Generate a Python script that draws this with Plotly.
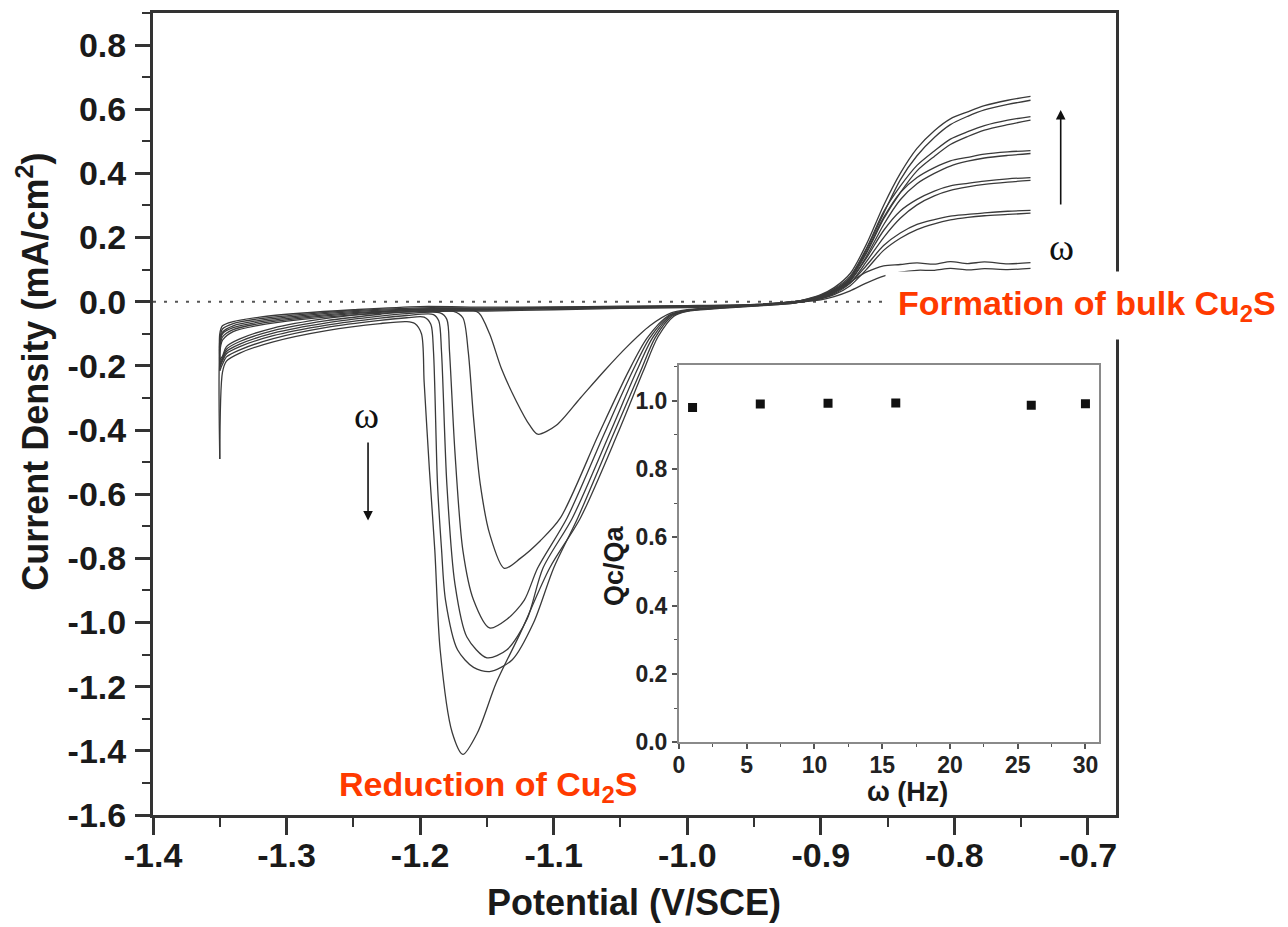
import plotly.graph_objects as go

# ---------------- tick labels ----------------
X_TICKS = [-1.4, -1.3, -1.2, -1.1, -1.0, -0.9, -0.8, -0.7]
X_TICK_LABELS = ["-1.4", "-1.3", "-1.2", "-1.1", "-1.0", "-0.9", "-0.8", "-0.7"]
Y_TICKS = [-1.6, -1.4, -1.2, -1.0, -0.8, -0.6, -0.4, -0.2, 0.0, 0.2, 0.4, 0.6, 0.8]
Y_TICK_LABELS = ["-1.6", "-1.4", "-1.2", "-1.0", "-0.8", "-0.6", "-0.4", "-0.2",
                 "0.0", "0.2", "0.4", "0.6", "0.8"]
IN_X_TICKS = [0, 5, 10, 15, 20, 25, 30]
IN_X_TICK_LABELS = ["0", "5", "10", "15", "20", "25", "30"]
IN_Y_TICKS = [0.0, 0.2, 0.4, 0.6, 0.8, 1.0]
IN_Y_TICK_LABELS = ["0.0", "0.2", "0.4", "0.6", "0.8", "1.0"]

# ---------------- inset data ----------------
OMEGA_HZ = [1, 6, 11, 16, 26, 30]
QC_QA = [0.980, 0.990, 0.992, 0.993, 0.986, 0.991]

# ---------------- shared potential grids (V/SCE) ----------------
SIG_X = [-0.743, -0.76, -0.7775, -0.79, -0.803, -0.815, -0.828, -0.8405, -0.853,
         -0.866, -0.878, -0.89, -0.90, -0.91, -0.92]
FLAT_X = [-0.95, -1.0, -1.05, -1.1, -1.15, -1.2, -1.25, -1.29, -1.32, -1.34, -1.348, -1.35]
LEFT_X = [-1.35, -1.348, -1.345, -1.335, -1.31, -1.27, -1.23, -1.21]
TAIL_X = [-0.98, -0.95, -0.92]
SIG_UP_X = [-0.91, -0.90, -0.89, -0.878, -0.866, -0.853, -0.8405, -0.828, -0.815,
            -0.803, -0.79, -0.7775, -0.76, -0.743]

# ---------------- curve A (lowest rotation rate) ----------------
A_SIG_C = [0.122, 0.118, 0.124, 0.119, 0.125, 0.117, 0.121, 0.116, 0.112, 0.092, 0.062, 0.036, 0.018, 0.006, 0.000]
A_FLAT_C = [-0.008, -0.012, -0.014, -0.016, -0.017, -0.015, -0.025, -0.036, -0.048, -0.062, -0.075, -0.100]
A_LEFT_A = [-0.180, -0.170, -0.140, -0.116, -0.082, -0.052, -0.033, -0.025]
A_PEAK_X = [-1.165, -1.156, -1.148, -1.139, -1.128, -1.118, -1.112, -1.098, -1.080, -1.062,
            -1.045, -1.028, -1.012, -1.000]
A_PEAK_Y = [-0.022, -0.035, -0.100, -0.210, -0.310, -0.385, -0.413, -0.385, -0.300, -0.215,
            -0.140, -0.075, -0.035, -0.025]
A_TAIL = [-0.018, -0.010, -0.003]
A_SIG_A = [0.001, 0.006, 0.016, 0.034, 0.058, 0.080, 0.092, 0.098, 0.098, 0.104, 0.099, 0.103, 0.100, 0.104]

# ---------------- curve B ----------------
B_SIG_C = [0.285, 0.282, 0.277, 0.272, 0.267, 0.256, 0.241, 0.214, 0.175, 0.112, 0.058, 0.030, 0.015, 0.005, 0.000]
B_FLAT_C = [-0.009, -0.013, -0.016, -0.018, -0.020, -0.019, -0.028, -0.040, -0.053, -0.068, -0.085, -0.120]
B_LEFT_A = [-0.190, -0.175, -0.148, -0.124, -0.090, -0.059, -0.039, -0.031]
B_PEAK_X = [-1.175, -1.168, -1.164, -1.160, -1.155, -1.148, -1.137, -1.125, -1.110, -1.095,
            -1.066, -1.044, -1.030, -1.014, -1.000]
B_PEAK_Y = [-0.030, -0.050, -0.155, -0.362, -0.568, -0.723, -0.831, -0.800, -0.745, -0.674,
            -0.410, -0.217, -0.113, -0.043, -0.027]
B_TAIL = [-0.019, -0.011, -0.003]
B_SIG_A = [0.002, 0.009, 0.022, 0.050, 0.100, 0.160, 0.198, 0.225, 0.243, 0.255, 0.263, 0.268, 0.272, 0.276]

# ---------------- curve C ----------------
C_SIG_C = [0.387, 0.383, 0.376, 0.369, 0.361, 0.345, 0.319, 0.283, 0.222, 0.135, 0.068, 0.034, 0.017, 0.006, 0.000]
C_FLAT_C = [-0.010, -0.014, -0.017, -0.020, -0.022, -0.022, -0.031, -0.044, -0.058, -0.075, -0.095, -0.130]
C_LEFT_A = [-0.200, -0.180, -0.155, -0.132, -0.098, -0.066, -0.045, -0.037]
C_PEAK_X = [-1.185, -1.180, -1.178, -1.174, -1.168, -1.160, -1.148, -1.135, -1.122, -1.112,
            -1.090, -1.062, -1.041, -1.028, -1.013, -1.000]
C_PEAK_Y = [-0.035, -0.055, -0.155, -0.465, -0.775, -0.930, -1.017, -0.990, -0.930, -0.830,
            -0.674, -0.410, -0.217, -0.113, -0.043, -0.027]
C_TAIL = [-0.020, -0.012, -0.003]
C_SIG_A = [0.003, 0.010, 0.025, 0.058, 0.124, 0.200, 0.260, 0.302, 0.330, 0.347, 0.358, 0.366, 0.373, 0.378]

# ---------------- curve D ----------------
D_SIG_C = [0.471, 0.467, 0.460, 0.450, 0.439, 0.418, 0.387, 0.340, 0.262, 0.155, 0.074, 0.037, 0.019, 0.007, 0.000]
D_FLAT_C = [-0.010, -0.015, -0.018, -0.021, -0.024, -0.025, -0.034, -0.048, -0.063, -0.081, -0.100, -0.140]
D_LEFT_A = [-0.205, -0.185, -0.162, -0.140, -0.106, -0.073, -0.051, -0.043]
D_PEAK_X = [-1.190, -1.186, -1.184, -1.180, -1.174, -1.165, -1.150, -1.135, -1.120, -1.108,
            -1.086, -1.058, -1.038, -1.026, -1.012, -1.000]
D_PEAK_Y = [-0.040, -0.060, -0.155, -0.568, -0.878, -1.045, -1.110, -1.085, -0.990, -0.830,
            -0.674, -0.410, -0.217, -0.113, -0.043, -0.028]
D_TAIL = [-0.020, -0.012, -0.003]
D_SIG_A = [0.003, 0.011, 0.028, 0.064, 0.140, 0.240, 0.318, 0.368, 0.400, 0.423, 0.438, 0.448, 0.456, 0.462]

# ---------------- curve E ----------------
E_SIG_C = [0.577, 0.566, 0.549, 0.530, 0.507, 0.470, 0.425, 0.360, 0.280, 0.165, 0.080, 0.040, 0.020, 0.008, 0.000]
E_FLAT_C = [-0.011, -0.016, -0.019, -0.022, -0.026, -0.028, -0.037, -0.052, -0.068, -0.087, -0.110, -0.150]
E_LEFT_A = [-0.215, -0.195, -0.172, -0.150, -0.115, -0.080, -0.058, -0.050]
E_PEAK_X = [-1.197, -1.192, -1.190, -1.187, -1.184, -1.181, -1.172, -1.160, -1.148, -1.131,
            -1.115, -1.100, -1.082, -1.055, -1.035, -1.024, -1.011, -1.000]
E_PEAK_Y = [-0.048, -0.070, -0.155, -0.568, -0.770, -0.930, -1.085, -1.140, -1.153, -1.116,
            -1.000, -0.830, -0.674, -0.410, -0.217, -0.112, -0.044, -0.029]
E_TAIL = [-0.021, -0.013, -0.004]
E_SIG_A = [0.004, 0.013, 0.030, 0.070, 0.150, 0.258, 0.340, 0.408, 0.453, 0.490, 0.515, 0.535, 0.552, 0.566]

# ---------------- curve F (highest rotation rate) ----------------
F_SIG_C = [0.640, 0.628, 0.611, 0.592, 0.570, 0.533, 0.478, 0.400, 0.300, 0.178, 0.088, 0.044, 0.022, 0.009, 0.000]
F_FLAT_C = [-0.012, -0.018, -0.021, -0.025, -0.029, -0.031, -0.041, -0.056, -0.073, -0.093, -0.120, -0.160]
F_LEFT_A = [-0.490, -0.220, -0.185, -0.160, -0.125, -0.090, -0.068, -0.062]
F_PEAK_X = [-1.204, -1.199, -1.197, -1.193, -1.189, -1.185, -1.176, -1.168, -1.157, -1.143,
            -1.125, -1.103, -1.080, -1.052, -1.033, -1.022, -1.010, -1.000]
F_PEAK_Y = [-0.068, -0.100, -0.250, -0.527, -0.775, -1.085, -1.343, -1.411, -1.343, -1.188,
            -1.033, -0.830, -0.674, -0.410, -0.217, -0.110, -0.045, -0.030]
F_TAIL = [-0.022, -0.014, -0.004]
F_SIG_A = [0.004, 0.014, 0.033, 0.075, 0.162, 0.275, 0.380, 0.455, 0.512, 0.552, 0.578, 0.598, 0.615, 0.628]

CURVES = [
    (A_SIG_C, A_FLAT_C, A_LEFT_A, A_PEAK_X, A_PEAK_Y, A_TAIL, A_SIG_A),
    (B_SIG_C, B_FLAT_C, B_LEFT_A, B_PEAK_X, B_PEAK_Y, B_TAIL, B_SIG_A),
    (C_SIG_C, C_FLAT_C, C_LEFT_A, C_PEAK_X, C_PEAK_Y, C_TAIL, C_SIG_A),
    (D_SIG_C, D_FLAT_C, D_LEFT_A, D_PEAK_X, D_PEAK_Y, D_TAIL, D_SIG_A),
    (E_SIG_C, E_FLAT_C, E_LEFT_A, E_PEAK_X, E_PEAK_Y, E_TAIL, E_SIG_A),
    (F_SIG_C, F_FLAT_C, F_LEFT_A, F_PEAK_X, F_PEAK_Y, F_TAIL, F_SIG_A),
]

FONT = "Liberation Sans, Arial, sans-serif"
SERIF = "Liberation Serif, Times New Roman, serif"
RED = "#ff3a00"
AX = "#333333"

fig = go.Figure()

for sig_c, flat_c, left_a, peak_x, peak_y, tail, sig_a in CURVES:
    xs = SIG_X + FLAT_X + [LEFT_X[0]] + [None] + LEFT_X + peak_x + TAIL_X + SIG_UP_X
    ys = sig_c + flat_c + [left_a[0]] + [None] + left_a + peak_y + tail + sig_a
    fig.add_trace(go.Scatter(
        x=xs, y=ys, mode="lines", connectgaps=False, hoverinfo="skip",
        line=dict(color="#3a3a3a", width=1.3, shape="spline", smoothing=0.8),
        xaxis="x", yaxis="y", showlegend=False))

fig.add_trace(go.Scatter(
    x=OMEGA_HZ, y=QC_QA, mode="markers",
    marker=dict(symbol="square", size=9, color="#111111"),
    xaxis="x2", yaxis="y2", showlegend=False))

def px_x(p):
    return (p - 153) / 963.0

def px_y(p):
    return (815 - p) / 805.0

fig.update_layout(
    width=1288, height=927,
    margin=dict(l=153, r=172, t=10, b=112),
    paper_bgcolor="white", plot_bgcolor="white",
    showlegend=False,
    xaxis=dict(
        domain=[0, 1], anchor="y", range=[-1.4, -0.679],
        tickmode="array", tickvals=X_TICKS, ticktext=X_TICK_LABELS,
        ticks="outside", ticklen=17, tickwidth=2.5, tickcolor=AX,
        ticklabelstandoff=-9,
        minor=dict(tickmode="linear", tick0=-1.35, dtick=0.1, ticks="outside",
                   ticklen=9, tickwidth=2, tickcolor=AX),
        showline=True, linewidth=3, linecolor=AX, mirror=True,
        showgrid=False, zeroline=False,
        tickfont=dict(family=FONT, size=34, color="#1a1a1a", weight="bold"),
    ),
    yaxis=dict(
        domain=[0, 1], anchor="x", range=[-1.6, 0.9],
        tickmode="array", tickvals=Y_TICKS, ticktext=Y_TICK_LABELS,
        ticks="outside", ticklen=15, tickwidth=2.5, tickcolor=AX,
        ticklabelstandoff=2,
        minor=dict(tickmode="linear", tick0=-1.5, dtick=0.2, ticks="outside",
                   ticklen=8, tickwidth=2, tickcolor=AX),
        showline=True, linewidth=3, linecolor=AX, mirror=True,
        showgrid=False, zeroline=False,
        tickfont=dict(family=FONT, size=34, color="#1a1a1a", weight="bold"),
    ),
    xaxis2=dict(
        domain=[px_x(679), px_x(1099)], anchor="y2", range=[0, 31.0],
        tickmode="array", tickvals=IN_X_TICKS, ticktext=IN_X_TICK_LABELS,
        ticks="outside", ticklen=5, tickwidth=1.5, tickcolor="#555",
        ticklabelstandoff=-4,
        minor=dict(tickmode="linear", tick0=2.5, dtick=5, ticks="outside",
                   ticklen=3, tickwidth=1.2, tickcolor="#555"),
        showline=True, linewidth=2, linecolor="#8a8a8a", mirror=True,
        showgrid=False, zeroline=False,
        tickfont=dict(family=FONT, size=23, color="#222", weight="bold"),
    ),
    yaxis2=dict(
        domain=[px_y(742), px_y(363)], anchor="x2", range=[0, 1.105],
        tickmode="array", tickvals=IN_Y_TICKS, ticktext=IN_Y_TICK_LABELS,
        ticks="outside", ticklen=5, tickwidth=1.5, tickcolor="#555",
        minor=dict(tickmode="linear", tick0=0.1, dtick=0.2, ticks="outside",
                   ticklen=3, tickwidth=1.2, tickcolor="#555"),
        showline=True, linewidth=2, linecolor="#8a8a8a", mirror=True,
        showgrid=False, zeroline=False,
        tickfont=dict(family=FONT, size=23, color="#222", weight="bold"),
    ),
)

fig.add_shape(type="line", xref="x", yref="y", x0=-1.4, x1=-0.679, y0=0, y1=0,
              line=dict(color="#555555", width=2, dash="3px,8px"), layer="below")

ann = []
# axis titles
ann.append(dict(text="Current Density (mA/cm<sup>2</sup>)", textangle=-90,
                xref="paper", yref="paper", x=px_x(33), y=px_y(370),
                xanchor="center", yanchor="middle", showarrow=False,
                font=dict(family=FONT, size=36, color="#1a1a1a", weight="bold")))
ann.append(dict(text="Potential (V/SCE)", xref="paper", yref="paper",
                x=px_x(634), y=px_y(903), xanchor="center", yanchor="middle",
                showarrow=False,
                font=dict(family=FONT, size=36, color="#1a1a1a", weight="bold")))
ann.append(dict(text="Qc/Qa", textangle=-90, xref="paper", yref="paper",
                x=px_x(614), y=px_y(565), xanchor="center", yanchor="middle",
                showarrow=False,
                font=dict(family=FONT, size=27, color="#1a1a1a", weight="bold")))
ann.append(dict(text="ω (Hz)", xref="paper", yref="paper",
                x=px_x(907), y=px_y(792), xanchor="center", yanchor="middle",
                showarrow=False,
                font=dict(family=FONT, size=27, color="#1a1a1a", weight="bold")))
# omega labels and arrows
ann.append(dict(text="ω", xref="x", yref="y", x=-1.24, y=-0.353,
                xanchor="center", yanchor="middle", showarrow=False,
                font=dict(family=SERIF, size=38, color="#111")))
ann.append(dict(text="ω", xref="x", yref="y", x=-0.7196, y=0.171,
                xanchor="center", yanchor="middle", showarrow=False,
                font=dict(family=SERIF, size=38, color="#111")))
ann.append(dict(text="", xref="x", yref="y", x=-1.239, y=-0.682,
                axref="x", ayref="y", ax=-1.239, ay=-0.434, showarrow=True,
                arrowhead=2, arrowsize=1.2, arrowwidth=1.6, arrowcolor="#111"))
ann.append(dict(text="", xref="x", yref="y", x=-0.7204, y=0.598,
                axref="x", ayref="y", ax=-0.7204, ay=0.298, showarrow=True,
                arrowhead=2, arrowsize=1.2, arrowwidth=1.6, arrowcolor="#111"))
# red labels
ann.append(dict(text="Reduction of Cu<sub>2</sub>S", xref="paper", yref="paper",
                x=px_x(488), y=px_y(786), xanchor="center", yanchor="middle",
                showarrow=False,
                font=dict(family=FONT, size=34, color=RED, weight="bold")))
ann.append(dict(text="Formation of bulk Cu<sub>2</sub>S", xref="paper", yref="paper",
                x=px_x(1087), y=px_y(304), xanchor="center", yanchor="middle",
                showarrow=False, bgcolor="white", borderpad=12,
                font=dict(family=FONT, size=34, color=RED, weight="bold")))
fig.update_layout(annotations=ann)

fig.write_html("out.html")
